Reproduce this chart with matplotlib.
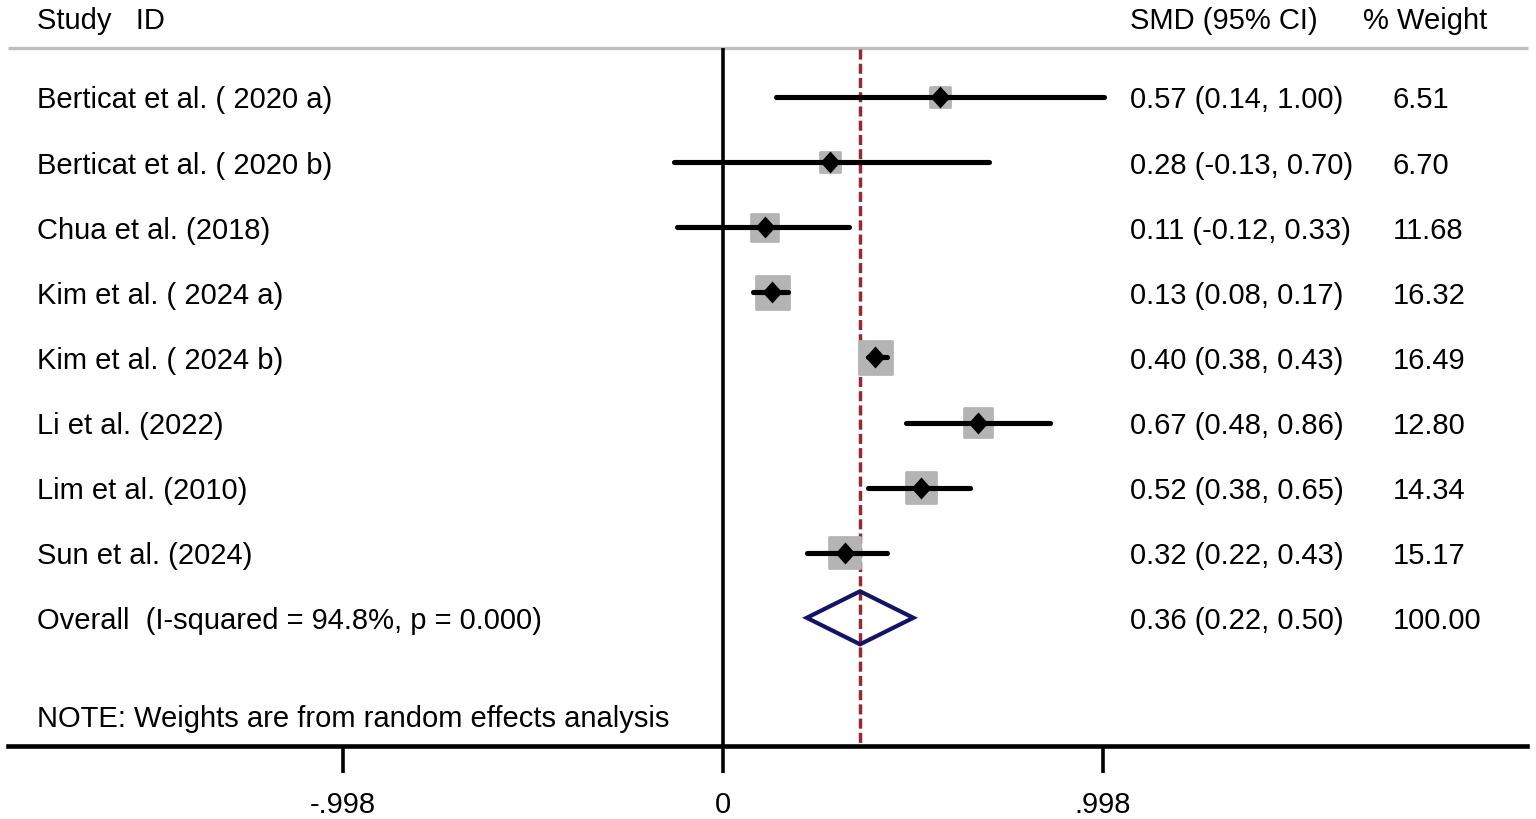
import matplotlib
matplotlib.use("Agg")
import matplotlib.pyplot as plt
import numpy as np

plt.rcParams['font.family'] = ['Liberation Sans', 'DejaVu Sans']

studies = ["Berticat et al. ( 2020 a)", "Berticat et al. ( 2020 b)", "Chua et al. (2018)",
           "Kim et al. ( 2024 a)", "Kim et al. ( 2024 b)", "Li et al. (2022)",
           "Lim et al. (2010)", "Sun et al. (2024)"]
smd = [0.57, 0.28, 0.11, 0.13, 0.40, 0.67, 0.52, 0.32]
ci_lo = [0.14, -0.13, -0.12, 0.08, 0.38, 0.48, 0.38, 0.22]
ci_hi = [1.00, 0.70, 0.33, 0.17, 0.43, 0.86, 0.65, 0.43]
weights = [6.51, 6.70, 11.68, 16.32, 16.49, 12.80, 14.34, 15.17]
overall_label = "Overall  (I-squared = 94.8%, p = 0.000)"
overall = 0.36
overall_lo = 0.22
overall_hi = 0.50
overall_weight = 100.00
xticks = [-0.998, 0, 0.998]
xticklabels = ["-.998", "0", ".998"]
note = "NOTE: Weights are from random effects analysis"

W, H = 1536, 820
DPI = 100
fig = plt.figure(figsize=(W / DPI, H / DPI), dpi=DPI)

# pixel geometry helpers (layout only)
X0PX, UNITPX = 723.0, 380.7      # pixel of x=0 and pixels per unit
ROW0PX, ROWPX = 98.0, 65.1       # pixel of first row and row spacing
def px2x(p):
    return (p - X0PX) / UNITPX
def py2r(p):
    return (p - ROW0PX) / ROWPX

ax_left_px, ax_right_px, ax_bottom_px = 8, 1527, 747
ax = fig.add_axes([ax_left_px / W, (H - ax_bottom_px) / H,
                   (ax_right_px - ax_left_px) / W, ax_bottom_px / H])
ax.set_xlim(px2x(ax_left_px), px2x(ax_right_px))
ax.set_ylim(py2r(ax_bottom_px), py2r(0))
for s in ['top', 'left', 'right']:
    ax.spines[s].set_visible(False)
ax.spines['bottom'].set_linewidth(3.3)
ax.set_yticks([])
ax.set_xticks(xticks)
ax.set_xticklabels(xticklabels, fontsize=21)
ax.tick_params(axis='x', length=19.5, width=2.6, pad=12.5, color='black')

pt = 72.0 / DPI  # points per pixel
FS = 21
cap_off = 10.5 / ROWPX   # baseline offset so caps are centered on row

rows = np.arange(len(studies))
top_line = py2r(49)

# header
ax.text(px2x(37), py2r(29), "Study   ID", fontsize=FS, va='baseline', ha='left', clip_on=False)
ax.text(px2x(1130), py2r(29), "SMD (95% CI)", fontsize=FS, va='baseline', ha='left', clip_on=False)
ax.text(px2x(1363), py2r(29), "% Weight", fontsize=FS, va='baseline', ha='left', clip_on=False)
ax.plot([px2x(8), px2x(1528)], [top_line, top_line], color='#bebebe', lw=2.4,
        solid_capstyle='butt', clip_on=False)

# zero line
ax.plot([0, 0], [top_line, py2r(ax_bottom_px)], color='black', lw=2.6, solid_capstyle='butt', zorder=2)
# overall dashed line
ax.plot([overall, overall], [py2r(50), py2r(ax_bottom_px)], color='#962a34', lw=2.5,
        linestyle=(0, (2.9, 1.2)), zorder=2)

# study rows
side_px = 8.55 * np.sqrt(np.array(weights)) - 2
ax.scatter(smd, rows, s=(side_px * pt) ** 2, marker='s', color='#b4b4b4',
           edgecolors='#b4b4b4', linewidths=2, zorder=3)
ax.hlines(rows, ci_lo, ci_hi, color='black', lw=3.7, zorder=4, capstyle='round')
diamond = [(0, 1), (0.9, 0), (0, -1), (-0.9, 0)]
ax.scatter(smd, rows, s=(22 * pt) ** 2, marker=diamond, color='black', zorder=5, linewidths=0)

for i, name in enumerate(studies):
    ax.text(px2x(37), i + cap_off, name, fontsize=FS, va='baseline', ha='left')
    ax.text(px2x(1130), i + cap_off, f"{smd[i]:.2f} ({ci_lo[i]:.2f}, {ci_hi[i]:.2f})",
            fontsize=FS, va='baseline', ha='left')
    ax.text(px2x(1393), i + cap_off, f"{weights[i]:.2f}", fontsize=FS, va='baseline', ha='left')

# overall row
r_ov = len(studies)
half_h = 26.5 / ROWPX
ax.fill([overall_lo, overall, overall_hi, overall, overall_lo],
        [r_ov, r_ov - half_h, r_ov, r_ov + half_h, r_ov],
        facecolor='none', edgecolor='#131466', lw=3.0, joinstyle='miter', zorder=4)
ax.text(px2x(37), r_ov + cap_off, overall_label, fontsize=FS, va='baseline', ha='left')
ax.text(px2x(1130), r_ov + cap_off, f"{overall:.2f} ({overall_lo:.2f}, {overall_hi:.2f})",
        fontsize=FS, va='baseline', ha='left')
ax.text(px2x(1393), r_ov + cap_off, f"{overall_weight:.2f}", fontsize=FS, va='baseline', ha='left')

# note
ax.text(px2x(37), py2r(717) + cap_off, note, fontsize=FS, va='baseline', ha='left')

fig.savefig("out.png", dpi=DPI, facecolor='white')
